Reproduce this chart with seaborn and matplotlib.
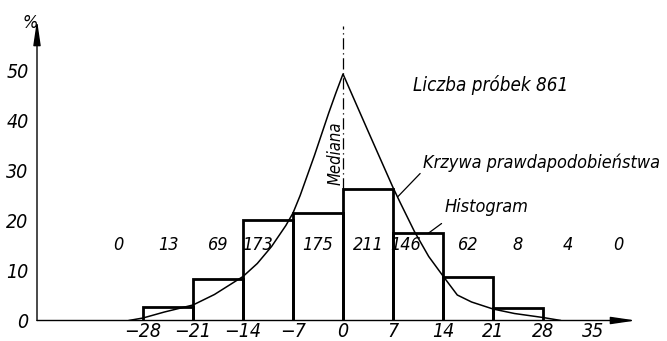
import numpy as np
import pandas as pd
import matplotlib
matplotlib.use("Agg")
import matplotlib.pyplot as plt
import seaborn as sns

# ============================================================
# DATEN
# ============================================================
bin_edges = [-28, -21, -14, -7, 0, 7, 14, 21, 28]
bar_heights = [2.7, 8.4, 20.1, 21.5, 26.4, 17.4, 8.8, 2.6]   # %

count_bin_left = [-35, -28, -21, -14, -7, 0, 7, 14, 21, 28, 35]
counts = [0, 13, 69, 173, 175, 211, 146, 62, 8, 4, 0]

curve_x = [-30, -28, -25, -21, -18, -14, -12, -10, -8, -7, -6, -4, -2, -1, 0,
           3.5, 7, 8, 10, 12, 14, 16, 18, 21, 24, 28, 30.5]
curve_y = [0, 0.5, 1.7, 3.1, 5.2, 8.8, 11.4, 14.8, 19.0, 21.5, 25.0, 33.0, 41.5, 45.5, 49.3,
           37.9, 26.6, 23.6, 17.8, 12.8, 8.9, 5.1, 3.7, 2.3, 1.4, 0.6, 0]

x_ticks = [-28, -21, -14, -7, 0, 7, 14, 21, 28, 35]
y_ticks = [0, 10, 20, 30, 40, 50]
n_samples = 861

# ============================================================
# STIL
# ============================================================
sns.set_style("white")
plt.rcParams['font.family'] = ['DejaVu Sans']
plt.rcParams['font.stretch'] = 'condensed'
plt.rcParams['font.style'] = 'italic'
plt.rcParams['text.color'] = 'black'
plt.rcParams['xtick.color'] = 'black'
plt.rcParams['ytick.color'] = 'black'

fig = plt.figure(figsize=(6.67, 3.41), dpi=100)
ax = fig.add_axes([37 / 667, 20.5 / 341, 599 / 667, 300.5 / 341])

# Histogramm
centers = [(a + b) / 2 for a, b in zip(bin_edges[:-1], bin_edges[1:])]
hist_df = pd.DataFrame({"x": centers, "w": bar_heights})
sns.histplot(data=hist_df, x="x", weights="w", bins=bin_edges, fill=False,
             element="bars", color="black", linewidth=2.0, ax=ax)

# Wahrscheinlichkeitskurve
curve_df = pd.DataFrame({"x": curve_x, "y": curve_y})
sns.lineplot(data=curve_df, x="x", y="y", color="black", linewidth=1.1, ax=ax)

# Mediana
ax.plot([0, 0], [bar_heights[4], 59], color="black", lw=0.9,
        linestyle=(0, (9, 3, 1, 3)))
ax.text(-1.0, 33.5, "Mediana", rotation=90, ha="center", va="center", fontsize=12)

# Zahlen pro Klasse
nudge = {173: -1.5, 146: -1.8}
for left, c in zip(count_bin_left, counts):
    ax.text(left + 3.5 + nudge.get(c, 0), 15.1, str(c), ha="center", va="center",
            fontsize=13)

# Beschriftungen
ax.text(20.7, 47.1, f"Liczba próbek {n_samples}", ha="center", va="center", fontsize=13.5)
ax.text(11.2, 31.5, "Krzywa prawdapodobieństwa", ha="left", va="center", fontsize=13)
ax.plot([7.7, 10.8], [24.8, 29.4], color="black", lw=0.9)
ax.text(14.2, 22.6, "Histogram", ha="left", va="center", fontsize=13)
ax.plot([11.9, 13.8], [17.4, 19.4], color="black", lw=0.9)
ax.text(-43.8, 59.6, "%", ha="center", va="center", fontsize=13, clip_on=False)

# Achsen mit Pfeilen
ax.set_xlim(-42.84, 41.02)
ax.set_ylim(0, 60.1)
for s in ax.spines.values():
    s.set_visible(False)
ax.annotate("", xy=(1, 0), xytext=(0, 0), xycoords="axes fraction",
            arrowprops=dict(arrowstyle="-|>,head_length=1.5,head_width=0.22",
                            color="black", lw=1.0, shrinkA=0, shrinkB=0))
ax.annotate("", xy=(0, 1), xytext=(0, 0), xycoords="axes fraction",
            arrowprops=dict(arrowstyle="-|>,head_length=1.5,head_width=0.22",
                            color="black", lw=1.0, shrinkA=0, shrinkB=0))

ax.set_xticks(x_ticks)
ax.set_xticklabels([str(t).replace("-", "\u2212") for t in x_ticks])
ax.set_yticks(y_ticks)
ax.set_yticklabels([str(t) for t in y_ticks])
ax.tick_params(axis="x", length=0, pad=1, labelsize=14)
ax.tick_params(axis="y", length=0, pad=6, labelsize=14)
ax.set_xlabel("")
ax.set_ylabel("")

fig.savefig("out.png", dpi=100)
